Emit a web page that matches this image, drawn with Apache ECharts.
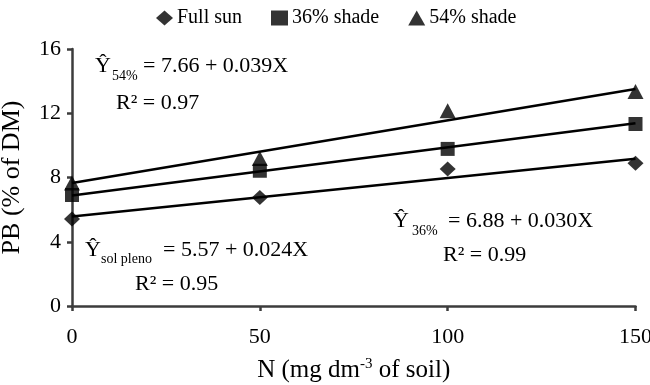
<!DOCTYPE html>
<html>
<head>
<meta charset="utf-8">
<script src="https://cdn.jsdelivr.net/npm/echarts@6/dist/echarts.min.js"></script>
<style>
html,body{margin:0;padding:0;background:#fff;}
#chart{width:650px;height:385px;}
</style>
</head>
<body>
<div id="chart"></div>
<script>
// ---- data ----
var nLevels = [0, 50, 100, 150];
var seriesNames = ['Full sun', '36% shade', '54% shade'];
var fullSun = [5.42, 6.75, 8.53, 8.89];
var shade36 = [6.91, 8.42, 9.78, 11.33];
var shade54 = [7.65, 9.18, 12.15, 13.36];
// fitted line endpoints (x = 0 and x = 150) from the printed equations
var fitX = [0, 150];
var fitFullSun = [5.57, 9.17];
var fitShade36 = [6.88, 11.38];
var fitShade54 = [7.66, 13.51];
var xTicks = [0, 50, 100, 150];
var yTicks = [0, 4, 8, 12, 16];

var FONT = 'Liberation Serif';
function pairs(xs, ys){ return xs.map(function(x,i){ return [x, ys[i]]; }); }

var chart = echarts.init(document.getElementById('chart'));

function txt(s, x, y, size){
  return {type:'text', x:x, y:y, style:{text:s, fontFamily:FONT, fontSize:size, fill:'#000', textVerticalAlign:'middle', textAlign:'left'}};
}
var annotations = [
  txt('Ŷ', 95, 66, 22), txt('54%', 112, 76, 14), txt('= 7.66 + 0.039X', 143, 66, 22), txt('R² = 0.97', 116, 103, 22),
  txt('Ŷ', 85, 250, 22), txt('sol pleno', 101, 259, 14), txt('= 5.57 + 0.024X', 163, 250, 22), txt('R² = 0.95', 135, 284, 22),
  txt('Ŷ', 393, 221, 22), txt('36%', 412, 231, 14), txt('= 6.88 + 0.030X', 448, 221, 22), txt('R² = 0.99', 443, 255, 22)
];

var axisCommon = {
  axisLine:{show:true, lineStyle:{color:'#3c3c3c', width:2.5}},
  axisTick:{show:true, inside:false, length:5, lineStyle:{color:'#3c3c3c', width:2.5}},
  splitLine:{show:false}
};

var option = {
  backgroundColor:'#fff',
  animation:false,
  graphic: annotations,
  legend:{
    data: seriesNames,
    left: 151, top: 3,
    itemWidth: 17, itemHeight: 15, itemGap: 29,
    textStyle:{fontFamily:FONT, fontSize:20, color:'#000', padding:[0,0,0,-1]}
  },
  grid:{left:72, right:14.5, top:49, bottom:79, containLabel:false, outerBoundsMode:'none'},
  xAxis: Object.assign({}, axisCommon, {
    type:'value', min:xTicks[0], max:xTicks[xTicks.length-1], interval:50,
    name:'N (mg dm{sup|-3} of soil)', nameLocation:'middle', nameGap:51,
    nameTextStyle:{color:'#000', fontFamily:FONT, fontSize:25, rich:{sup:{fontFamily:FONT, fontSize:15, color:'#000', verticalAlign:'top', padding:[0,0,11,0]}}},
    axisLabel:{color:'#000', fontFamily:FONT, fontSize:22, margin:20}
  }),
  yAxis: Object.assign({}, axisCommon, {
    type:'value', min:yTicks[0], max:yTicks[yTicks.length-1], interval:4,
    name:'PB (% of DM)', nameLocation:'middle', nameGap:47,
    nameTextStyle:{color:'#000', fontFamily:FONT, fontSize:26},
    axisLabel:{color:'#000', fontFamily:FONT, fontSize:22, margin:11}
  }),
  series:[
    {type:'line', data:pairs(fitX, fitFullSun), showSymbol:false, lineStyle:{color:'#000', width:2.5}, z:2, silent:true},
    {type:'line', data:pairs(fitX, fitShade36), showSymbol:false, lineStyle:{color:'#000', width:2.5}, z:2, silent:true},
    {type:'line', data:pairs(fitX, fitShade54), showSymbol:false, lineStyle:{color:'#000', width:2.5}, z:2, silent:true},
    {name:seriesNames[0], type:'scatter', symbol:'diamond', symbolSize:[16,15], data:pairs(nLevels, fullSun), itemStyle:{color:'#000'}, z:3, clip:false},
    {name:seriesNames[1], type:'scatter', symbol:'rect', symbolSize:14, data:pairs(nLevels, shade36), itemStyle:{color:'#000'}, z:3, clip:false},
    {name:seriesNames[2], type:'scatter', symbol:'triangle', symbolSize:[16,15], data:pairs(nLevels, shade54), itemStyle:{color:'#000'}, z:3, clip:false}
  ]
};
chart.setOption(option);
</script>
</body>
</html>
